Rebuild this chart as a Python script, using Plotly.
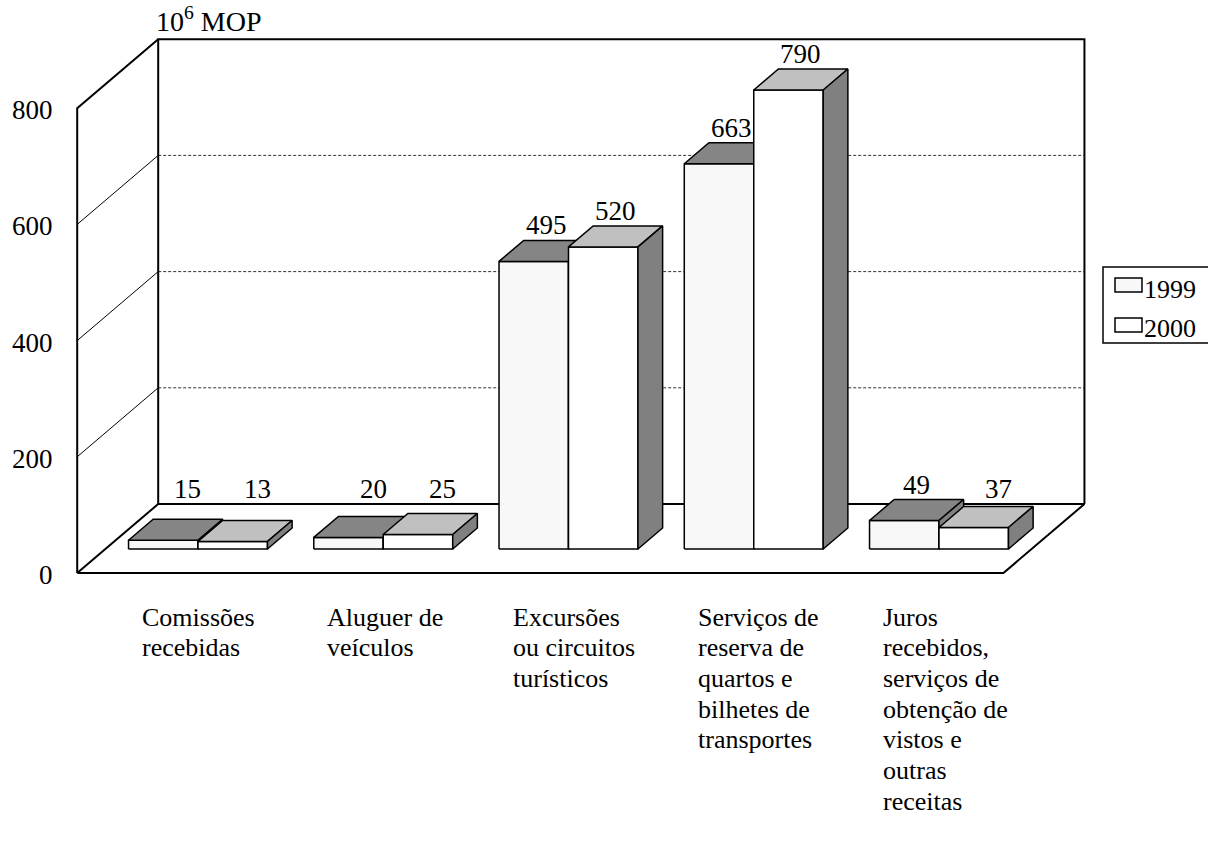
import plotly.graph_objects as go

# ---------------- data ----------------
category_lines = [
    ["Comissões", "recebidas"],
    ["Aluguer de", "veículos"],
    ["Excursões", "ou circuitos", "turísticos"],
    ["Serviços de", "reserva de", "quartos e", "bilhetes de", "transportes"],
    ["Juros", "recebidos,", "serviços de", "obtenção de", "vistos e", "outras", "receitas"],
]
series_names = ["1999", "2000"]
values_1999 = [15, 20, 495, 663, 49]
values_2000 = [13, 25, 520, 790, 37]
y_ticks = [0, 200, 400, 600, 800]
unit_label = "10<sup>6</sup> MOP"

# ---------------- styling / projection ----------------
W, H = 1208, 858
FONT = "'Times New Roman', 'Liberation Serif', 'DejaVu Serif', serif"
FS = 26
PX_CAT = 185.25      # pixels per category unit
PX_VAL = 0.581       # pixels per value unit
ORIGIN_X = 198       # pixel x of category 0 (bar front plane)
ORIGIN_Y = 549       # pixel y of value 0 (bar front plane)
SLOPE = 81 / 69      # depth direction (dx per -dy)
Z_FRONT, Z_BAR_BACK, Z_WALL = -24, 21, 45
BAR_W = 0.375
X_LO, X_HI = -0.5, 4.5
Y_MAX = y_ticks[-1]

front_cols = ["#f8f8f8", "#ffffff"]
top_cols = ["#858585", "#c0c0c0"]
side_cols = ["#808080", "#808080"]

x_range = [-ORIGIN_X / PX_CAT, (W - ORIGIN_X) / PX_CAT]
y_range = [-(H - ORIGIN_Y) / PX_VAL, ORIGIN_Y / PX_VAL]


def P(xc, v, z):
    return xc + z * SLOPE / PX_CAT, v + z / PX_VAL


def poly(pts):
    xs = [p[0] for p in pts] + [pts[0][0]]
    ys = [p[1] for p in pts] + [pts[0][1]]
    return xs, ys


fig = go.Figure()


def add_line(pts, width=2, color="black", dash=None):
    xs = [p[0] for p in pts]
    ys = [p[1] for p in pts]
    fig.add_trace(go.Scatter(x=xs, y=ys, mode="lines",
                             line=dict(color=color, width=width, dash=dash),
                             hoverinfo="skip", showlegend=False))


def add_face(pts, fill, width=1.5):
    xs, ys = poly(pts)
    fig.add_trace(go.Scatter(x=xs, y=ys, mode="lines", fill="toself",
                             fillcolor=fill, line=dict(color="black", width=width),
                             hoverinfo="skip", showlegend=False))


# gridlines
for t in y_ticks[1:-1]:
    add_line([P(X_LO, t, Z_WALL), P(X_HI, t, Z_WALL)], width=1, color="#333333", dash="3px,2px")
    add_line([P(X_LO, t, Z_FRONT), P(X_LO, t, Z_WALL)], width=1, color="black")

# frame: floor, back wall, left wall
add_line([P(X_LO, 0, Z_FRONT), P(X_HI, 0, Z_FRONT), P(X_HI, 0, Z_WALL),
          P(X_LO, 0, Z_WALL), P(X_LO, 0, Z_FRONT)])
add_line([P(X_LO, 0, Z_WALL), P(X_LO, Y_MAX, Z_WALL), P(X_HI, Y_MAX, Z_WALL), P(X_HI, 0, Z_WALL)])
add_line([P(X_LO, 0, Z_FRONT), P(X_LO, Y_MAX, Z_FRONT), P(X_LO, Y_MAX, Z_WALL)])

annotations = []

# bars
series_vals = [values_1999, values_2000]
for i in range(len(category_lines)):
    for s, vals in enumerate(series_vals):
        v = vals[i]
        x0 = i - BAR_W + s * BAR_W
        x1 = x0 + BAR_W
        add_face([P(x0, 0, 0), P(x1, 0, 0), P(x1, v, 0), P(x0, v, 0)], front_cols[s])
        add_face([P(x0, v, 0), P(x1, v, 0), P(x1, v, Z_BAR_BACK), P(x0, v, Z_BAR_BACK)], top_cols[s])
        add_face([P(x1, 0, 0), P(x1, 0, Z_BAR_BACK), P(x1, v, Z_BAR_BACK), P(x1, v, 0)], side_cols[s])
        # value label
        y_top = v + Z_BAR_BACK / PX_VAL
        y_floor = Z_WALL / PX_VAL
        clamped = y_floor > y_top
        zx = Z_BAR_BACK if clamped else Z_BAR_BACK / 2
        xl, _ = P((x0 + x1) / 2, 0, zx)
        annotations.append(dict(x=xl, y=max(y_top, y_floor), xref="x", yref="y",
                                text=str(v), showarrow=False, xanchor="center",
                                yanchor="bottom", yshift=-2,
                                font=dict(family=FONT, size=FS + 1, color="black")))

# y tick labels
for t in y_ticks:
    xt, yt = P(X_LO, t, Z_FRONT)
    annotations.append(dict(x=xt, y=yt, xref="x", yref="y", text=str(t), showarrow=False,
                            xanchor="right", yanchor="middle", xshift=-22, yshift=-2,
                            font=dict(family=FONT, size=FS + 1, color="black")))

# category labels
for i, lines in enumerate(category_lines):
    for k, line in enumerate(lines):
        annotations.append(dict(x=i, xref="x", y=1 - (617 + 30.7 * k) / H, yref="paper",
                                text=line, showarrow=False, xanchor="left", yanchor="middle",
                                xshift=-58, font=dict(family=FONT, size=FS, color="black")))

# unit label
xu, yu = P(X_LO, Y_MAX, Z_WALL)
annotations.append(dict(x=xu, y=yu, xref="x", yref="y", text=unit_label, showarrow=False,
                        xanchor="left", yanchor="bottom", xshift=-4, yshift=0,
                        font=dict(family=FONT, size=FS + 2, color="black")))

# legend (custom)
shapes = [dict(type="rect", xref="paper", yref="paper", x0=1103 / W, x1=1230 / W,
               y0=1 - 343 / H, y1=1 - 267 / H, line=dict(color="black", width=1.5),
               fillcolor="white")]
for s, name in enumerate(series_names):
    yc = 285 + 40 * s
    shapes.append(dict(type="rect", xref="paper", yref="paper", x0=1115 / W, x1=1142 / W,
                       y0=1 - (yc + 7) / H, y1=1 - (yc - 7) / H,
                       line=dict(color="black", width=1.5), fillcolor=front_cols[s]))
    annotations.append(dict(x=1142 / W, y=1 - (yc + 4) / H, xref="paper", yref="paper",
                            text=name, showarrow=False, xanchor="left", yanchor="middle",
                            font=dict(family=FONT, size=FS, color="black")))

fig.update_layout(
    width=W, height=H, autosize=False,
    margin=dict(l=0, r=0, t=0, b=0),
    paper_bgcolor="white", plot_bgcolor="white",
    showlegend=False,
    xaxis=dict(range=x_range, visible=False, fixedrange=True),
    yaxis=dict(range=y_range, visible=False, fixedrange=True),
    annotations=annotations, shapes=shapes,
)

fig.write_html("out.html", config={"displayModeBar": False},
               post_script="document.body.style.margin='0';document.body.style.overflow='hidden';")
